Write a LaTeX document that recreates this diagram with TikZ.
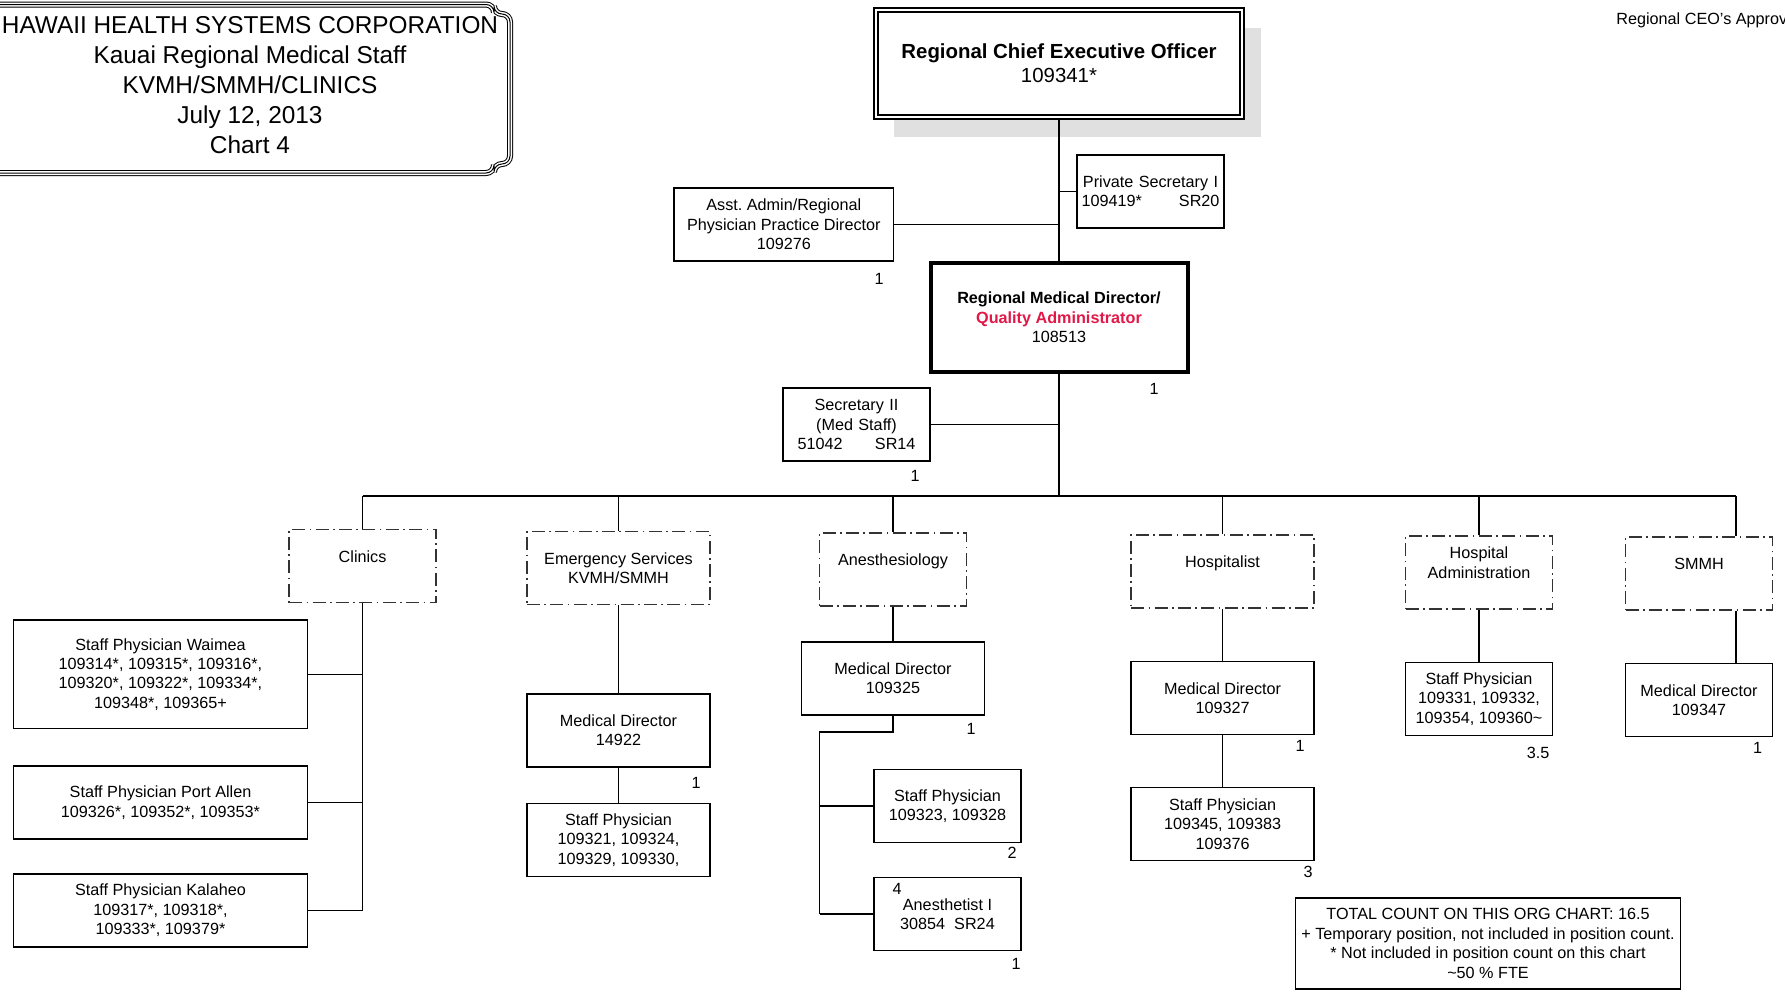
\documentclass[tikz,border=0pt]{standalone}
\usepackage{fontspec}
\setmainfont{Liberation Sans}
\usepackage{tikz}
\definecolor{qared}{RGB}{226,24,72}
\newcommand\orgfont{\fontsize{8.1}{9.7}\selectfont}
\frenchspacing

\begin{document}
\begin{tikzpicture}[x=0.5pt, y=-0.5pt,
    post/.style={draw, line width=0.75pt, fill=white, align=center, inner sep=1pt, minimum height=36.5pt, font=\orgfont},
    narrow/.style={minimum width=73.5pt},
    wide/.style={minimum width=91.5pt},
    dept/.style={post, draw=black!80, line width=0.9pt, dash pattern=on 6.5pt off 2.2pt on 0.8pt off 2.2pt},
    cnt/.style={inner sep=0pt, font=\orgfont},
    link/.style={line width=0.75pt}]
                \useasboundingbox (0,0) rectangle (1785,997);
                % title frame
                \draw[line width=0.5pt, double distance=2pt, rounded corners=4pt] (-30,4.5) -- (494,4.5) -- (494,14) -- (510,14) -- (510,164) -- (494,164) -- (494,173) -- (-30,173);
                \draw[line width=0.5pt, rounded corners=4pt] (-30,4.5) -- (494,4.5) -- (494,14) -- (510,14) -- (510,164) -- (494,164) -- (494,173) -- (-30,173);
                \node[align=center, font=\fontsize{12.2}{15}\selectfont] (title) at (250,85) {HAWAII HEALTH SYSTEMS CORPORATION\\Kauai Regional Medical Staff\\KVMH/SMMH/CLINICS\\July 12, 2013\\Chart 4};
                \node[cnt, anchor=west] (approval) at (1616,20.5) {Regional CEO's Approv};
                % top of the chart
                \fill[black!12] (894,28) rectangle (1261,137);
                \node[post, minimum width=183pt, minimum height=53.5pt, line width=0.7pt, double, double distance=1.3pt, font=\fontsize{10.2}{12}\selectfont] (ceo) at (1059,63.5) {\textbf{Regional Chief Executive Officer}\\109341*};
                \node[post, narrow, text width=69pt] (psec) at (1150.5,191.5) {\mbox{Private Secretary I}\\109419*\hfill SR20};
                \node[post, minimum width=109.8pt] (asst) at (783.8,224.4) {Asst. Admin/Regional\\Physician Practice Director\\109276};
                \node[post, minimum width=128.5pt, minimum height=54.5pt, line width=2pt] (rmd) at (1059,317.5) {\textbf{Regional Medical Director/}\\\textcolor{qared}{\textbf{Quality Administrator}}\\108513};
                \node[post, narrow, text width=59pt] (sec2) at (856.5,424.5) {Secretary II\\(Med Staff)\\51042\hfill SR14};
                % departments
                \node[dept, narrow] (clinics) at (362.6,566) {Clinics\\\mbox{}};
                \node[dept, wide] (emerg) at (618.5,568) {Emergency Services\\KVMH/SMMH};
                \node[dept, narrow] (anest) at (893,569.3) {Anesthesiology\\\mbox{}};
                \node[dept, wide] (hospi) at (1222.6,571.5) {Hospitalist\\\mbox{}};
                \node[dept, narrow] (hadmin) at (1479,572.5) {Hospital\\Administration\\\mbox{}};
                \node[dept, narrow] (smmh) at (1699,573.5) {SMMH\\\mbox{}};
                % positions
                \node[post, minimum width=146.9pt, minimum height=54.3pt] (waimea) at (160.5,674.3) {Staff Physician Waimea\\109314*, 109315*, 109316*,\\109320*, 109322*, 109334*,\\109348*, 109365+};
                \node[post, minimum width=146.9pt] (portallen) at (160.5,802.5) {Staff Physician Port Allen\\109326*, 109352*, 109353*};
                \node[post, minimum width=146.9pt] (kalaheo) at (160.5,910.5) {Staff Physician Kalaheo\\109317*, 109318*,\\109333*, 109379*};
                \node[post, wide] (md1) at (618.5,730.5) {Medical Director\\14922};
                \node[post, wide] (sp1) at (618.5,840) {Staff Physician\\109321, 109324,\\109329, 109330,};
                \node[post, wide] (md2) at (893,678.5) {Medical Director\\109325};
                \node[post, narrow] (sp2) at (947.5,806) {Staff Physician\\109323, 109328};
                \node[post, narrow] (anes1) at (947.5,914) {Anesthetist I\\30854\ \ SR24};
                \node[post, wide] (md3) at (1222.6,698) {Medical Director\\109327};
                \node[post, wide] (sp3) at (1222.6,824) {Staff Physician\\109345, 109383\\109376};
                \node[post, narrow] (sp4) at (1479,699) {Staff Physician\\109331, 109332,\\109354, 109360\textasciitilde};
                \node[post, narrow] (md4) at (1699,700) {Medical Director\\109347};
                \node[post, minimum width=192.5pt, minimum height=45.5pt] (total) at (1488,943.5) {TOTAL COUNT ON THIS ORG CHART: 16.5\\+ Temporary position, not included in position count.\\* Not included in position count on this chart\\\textasciitilde 50 \% FTE};
                % counts
                \node[cnt] (nasst) at (879,279) {1};
                \node[cnt] (nrmd) at (1154,389) {1};
                \node[cnt] (nsec2) at (915,476) {1};
                \node[cnt] (nmd1) at (696,783) {1};
                \node[cnt] (nmd2) at (971,728.6) {1};
                \node[cnt] (nsp2) at (1012,852.7) {2};
                \node[cnt] (nanes4) at (897,889) {4};
                \node[cnt] (nanes1) at (1016,964) {1};
                \node[cnt] (nmd3) at (1300,745.6) {1};
                \node[cnt] (nsp3) at (1308,872) {3};
                \node[cnt] (nsp4) at (1538,752.5) {3.5};
                \node[cnt] (nmd4) at (1757.7,748) {1};
                % connectors
                \coordinate (busL) at (362.6,496);
                \coordinate (busR) at (1736,496);
                \coordinate (abend) at (819.6,732);
                \draw[link] (ceo.south) -- (rmd.north);
                \draw[link] (psec.west) -- (psec.west -| ceo.south);
                \draw[link] (asst.east) -- (asst.east -| ceo.south);
                \draw[link] (sec2.east) -- (sec2.east -| rmd.south);
                \draw[link] (rmd.south) -- (rmd.south |- busL);
                \draw[link] (busL) -- (busR);
                \foreach \d in {clinics, emerg, anest, hospi, hadmin}
                    \draw[link] (\d.north) -- (\d.north |- busL);
                \draw[link] (busR) -- (busR |- smmh.north);
                \draw[link] (busR |- smmh.south) -- (busR |- md4.north);
                \draw[link] (clinics.south) -- (clinics.south |- kalaheo.east);
                \foreach \s in {waimea, portallen, kalaheo}
                    \draw[link] (\s.east) -- (\s.east -| clinics.south);
                \draw[link] (emerg.south) -- (md1.north);
                \draw[link] (md1.south) -- (sp1.north);
                \draw[link] (anest.south) -- (md2.north);
                \draw[link] (md2.south) |- (abend) -- (abend |- anes1.west);
                \foreach \s in {sp2, anes1}
                    \draw[link] (\s.west) -- (\s.west -| abend);
                \draw[link] (hospi.south) -- (md3.north);
                \draw[link] (md3.south) -- (sp3.north);
                \draw[link] (hadmin.south) -- (sp4.north);
            \end{tikzpicture}
\end{document}
